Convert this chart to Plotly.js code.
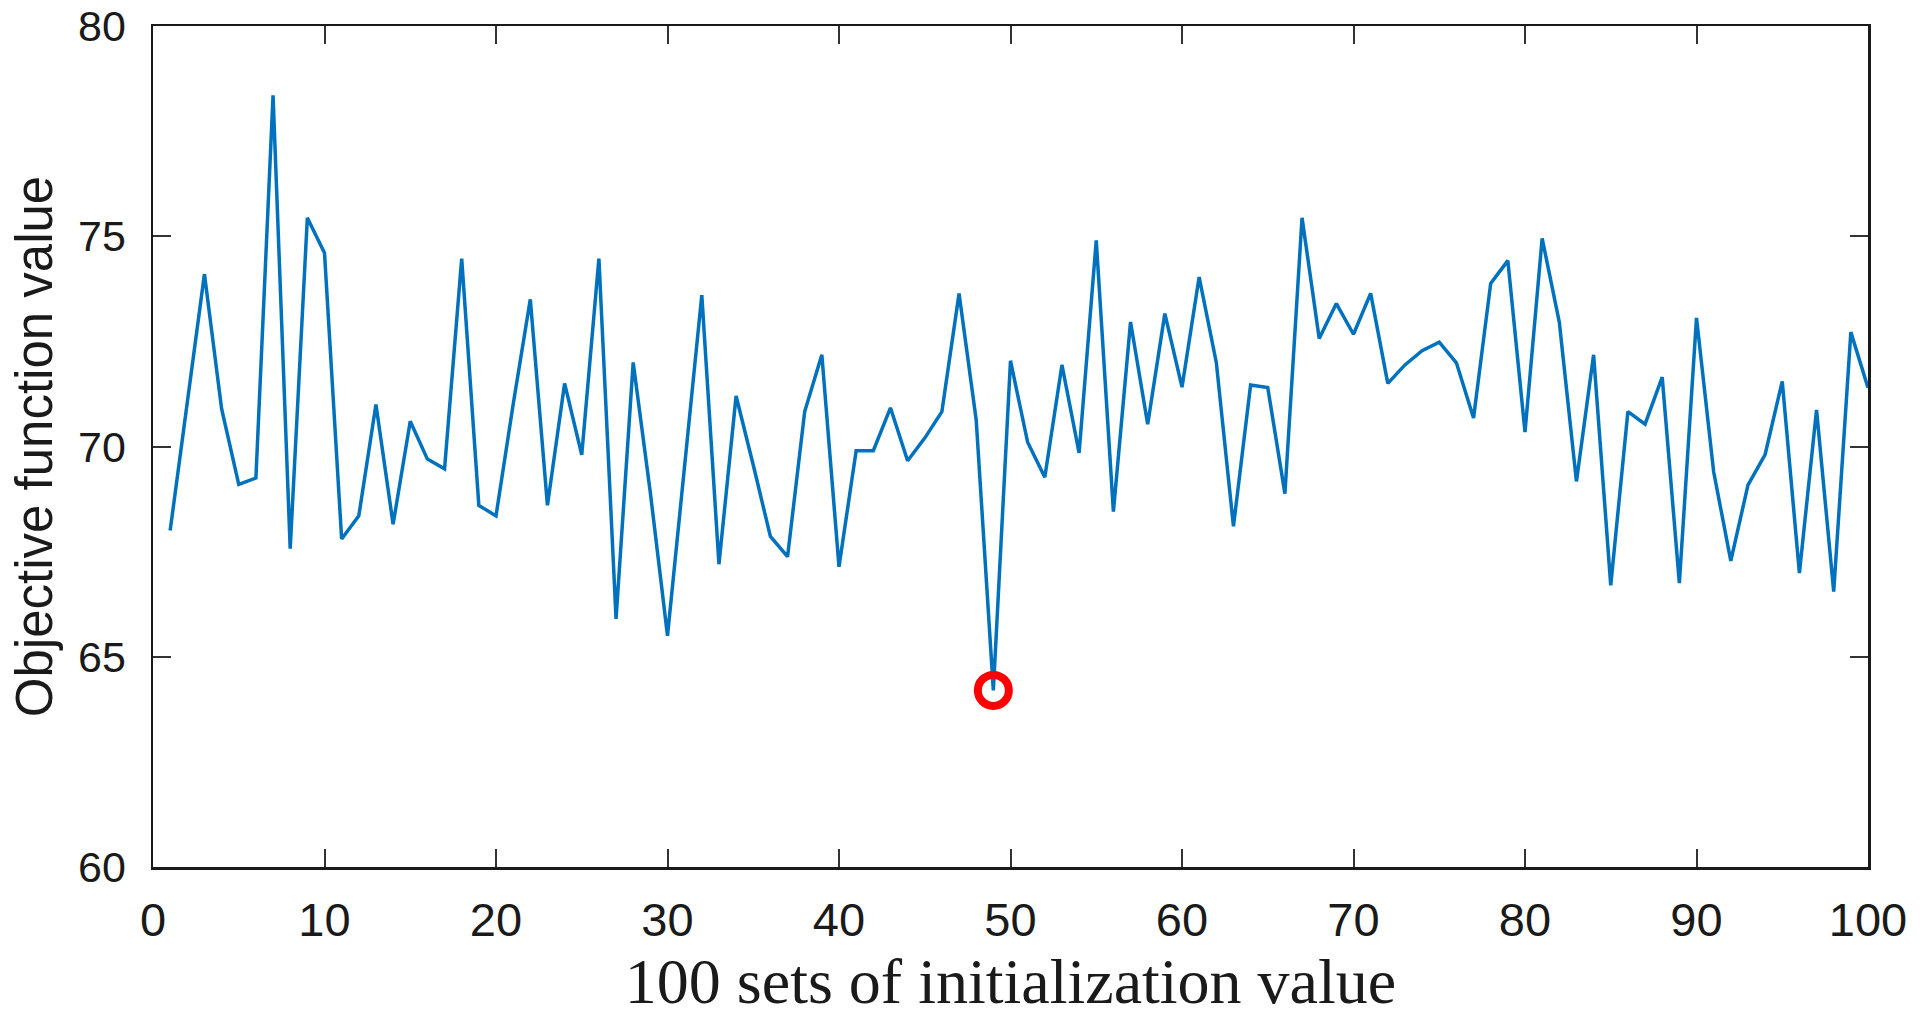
<!DOCTYPE html>
<html>
<head>
<meta charset="utf-8">
<script src="https://cdn.plot.ly/plotly-3.0.1.min.js"></script>
<style>html,body{margin:0;padding:0;background:#fff;}#chart{width:1920px;height:1024px;}</style>
</head>
<body>
<div id="chart"></div>
<script>
const runIndex = Array.from({length: 100}, (_, i) => i + 1);
const objectiveValues = [
  68.0, 71.0, 74.1, 70.9, 69.1, 69.25, 78.35, 67.57, 75.44, 74.6,
  67.8, 68.35, 71.0, 68.15, 70.6, 69.7, 69.47, 74.47, 68.6, 68.35,
  71.0, 73.5, 68.6, 71.5, 69.8, 74.47, 65.9, 72.0, 68.9, 65.5,
  69.5, 73.6, 67.2, 71.2, 69.56, 67.86, 67.38, 70.83, 72.18, 67.14,
  69.9, 69.9, 70.92, 69.66, 70.2, 70.83, 73.64, 70.63, 64.2, 72.04,
  70.1, 69.27, 71.94, 69.85, 74.9, 68.45, 72.96, 70.53, 73.16, 71.41,
  74.03, 72.0, 68.1, 71.46, 71.4, 68.88, 75.44, 72.57, 73.4, 72.67,
  73.64, 71.5, 71.94, 72.28, 72.48, 71.99, 70.68, 73.88, 74.42, 70.34,
  74.95, 72.96, 69.17, 72.18, 66.7, 70.83, 70.53, 71.65, 66.75, 73.06,
  69.4, 67.28, 69.08, 69.81, 71.55, 66.99, 70.87, 66.55, 72.72, 71.4
];
const bestIndex = [49];
const bestValue = [objectiveValues[48]];
const xTickVals = [0, 10, 20, 30, 40, 50, 60, 70, 80, 90, 100];
const yTickVals = [60, 65, 70, 75, 80];
const xTitle = '100 sets of initialization value';
const yTitle = 'Objective function value';

const traces = [
  {
    x: runIndex, y: objectiveValues, type: 'scatter', mode: 'lines',
    line: {color: '#0072BD', width: 3.5}, hoverinfo: 'x+y', showlegend: false
  },
  {
    x: bestIndex, y: bestValue, type: 'scatter', mode: 'markers',
    marker: {symbol: 'circle-open', size: 31, color: '#ff0000', line: {color: '#ff0000', width: 8}},
    showlegend: false
  }
];

const axisCommon = {
  showgrid: false, zeroline: false, showline: true, mirror: 'ticks',
  linecolor: '#1a1a1a', linewidth: 2.5,
  ticks: 'inside', ticklen: 18, tickwidth: 2, tickcolor: '#333333'
};

const layout = {
  width: 1920, height: 1024,
  paper_bgcolor: '#ffffff', plot_bgcolor: '#ffffff',
  margin: {l: 153, r: 52, t: 26, b: 157, pad: 0},
  xaxis: Object.assign({}, axisCommon, {
    range: [0, 100], tickvals: xTickVals, ticktext: xTickVals.map(String),
    tickfont: {family: 'Liberation Sans, Arial, sans-serif', size: 47, color: '#1a1a1a'},
    ticklabelstandoff: 10,
    title: {text: xTitle, standoff: 8, font: {family: 'Liberation Serif, Times New Roman, serif', size: 64, color: '#1a1a1a'}}
  }),
  yaxis: Object.assign({}, axisCommon, {
    range: [60, 80], tickvals: yTickVals, ticktext: yTickVals.map(String),
    tickfont: {family: 'Liberation Sans, Arial, sans-serif', size: 43, color: '#1a1a1a'},
    ticklabelstandoff: 16,
    title: {text: yTitle, standoff: 9, font: {family: 'Liberation Sans, Arial, sans-serif', size: 51, color: '#1a1a1a'}}
  })
};

Plotly.newPlot('chart', traces, layout, {staticPlot: true, displayModeBar: false});
</script>
</body>
</html>
